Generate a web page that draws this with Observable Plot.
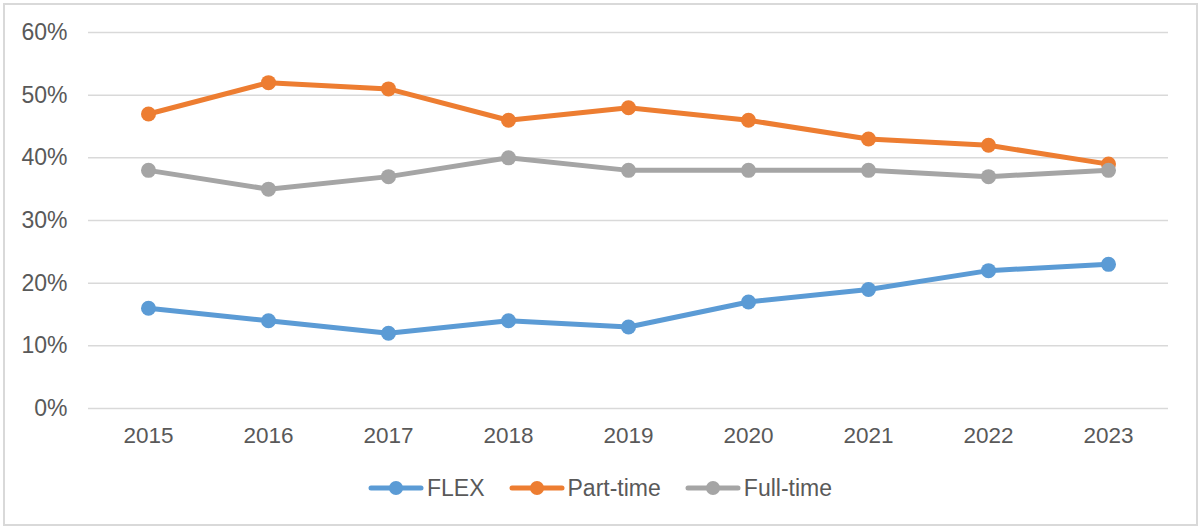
<!DOCTYPE html>
<html>
<head>
<meta charset="utf-8">
<script src="https://cdn.jsdelivr.net/npm/d3@7"></script>
<script src="https://cdn.jsdelivr.net/npm/@observablehq/plot@0.6"></script>
<style>
  html, body { margin: 0; padding: 0; background: #fff; }
  #wrap { position: relative; width: 1200px; height: 529px; overflow: hidden; font-family: "Liberation Sans", Arial, sans-serif; }
  #frame { position: absolute; left: 3px; top: 3px; width: 1191px; height: 519px; border: 2px solid #d9d9d9; pointer-events: none; }
  #legend { position: absolute; left: 0; top: 469px; width: 1200px; height: 38px; display: flex; justify-content: center; align-items: center; gap: 24px; color: #595959; font-size: 23px; }
  .item { display: flex; align-items: center; gap: 3px; }
</style>
</head>
<body>
<div id="wrap">
  <div id="chart"></div>
  <div id="legend"></div>
  <div id="frame"></div>
</div>
<script>
const years = ["2015","2016","2017","2018","2019","2020","2021","2022","2023"];
const flex = [0.16, 0.14, 0.12, 0.14, 0.13, 0.17, 0.19, 0.22, 0.23];
const partTime = [0.47, 0.52, 0.51, 0.46, 0.48, 0.46, 0.43, 0.42, 0.39];
const fullTime = [0.38, 0.35, 0.37, 0.40, 0.38, 0.38, 0.38, 0.37, 0.38];
const seriesNames = ["FLEX", "Part-time", "Full-time"];
const seriesColors = ["#5B9BD5", "#ED7D31", "#A5A5A5"];
const yTicks = [0, 0.1, 0.2, 0.3, 0.4, 0.5, 0.6];

const seriesValues = [flex, partTime, fullTime];
const data = [];
seriesNames.forEach((name, si) => {
  years.forEach((yr, i) => data.push({series: name, year: yr, value: seriesValues[si][i]}));
});

const chart = Plot.plot({
  width: 1200,
  height: 460,
  marginTop: 32,
  marginBottom: 52,
  marginLeft: 88,
  marginRight: 32,
  style: {fontFamily: '"Liberation Sans", Arial, sans-serif', fontSize: "23px", color: "#595959", background: "#fff"},
  x: {type: "point", domain: years, padding: 0.5, label: null},
  y: {domain: [0, 0.6], label: null},
  color: {domain: seriesNames, range: seriesColors},
  marks: [
    Plot.ruleY(yTicks, {stroke: "#d9d9d9", strokeWidth: 1.5}),
    Plot.axisY(yTicks, {tickSize: 0, tickPadding: 21, tickFormat: d3.format(".0%"), fill: "#595959", fontSize: 23, label: null}),
    Plot.axisX(years, {tickSize: 0, tickPadding: 19, fill: "#595959", fontSize: 22.5, label: null}),
    Plot.line(data, {x: "year", y: "value", z: "series", stroke: "series", strokeWidth: 5, strokeLinecap: "round", strokeLinejoin: "round"}),
    Plot.dot(data, {x: "year", y: "value", fill: "series", r: 7.5})
  ]
});
document.getElementById("chart").appendChild(chart);

const legend = document.getElementById("legend");
seriesNames.forEach((name, i) => {
  const item = document.createElement("div");
  item.className = "item";
  item.innerHTML = `<svg width="56" height="20"><line x1="3" y1="10" x2="53" y2="10" stroke="${seriesColors[i]}" stroke-width="5" stroke-linecap="round"/><circle cx="28" cy="10" r="7" fill="${seriesColors[i]}"/></svg><span>${name}</span>`;
  legend.appendChild(item);
});
</script>
</body>
</html>
